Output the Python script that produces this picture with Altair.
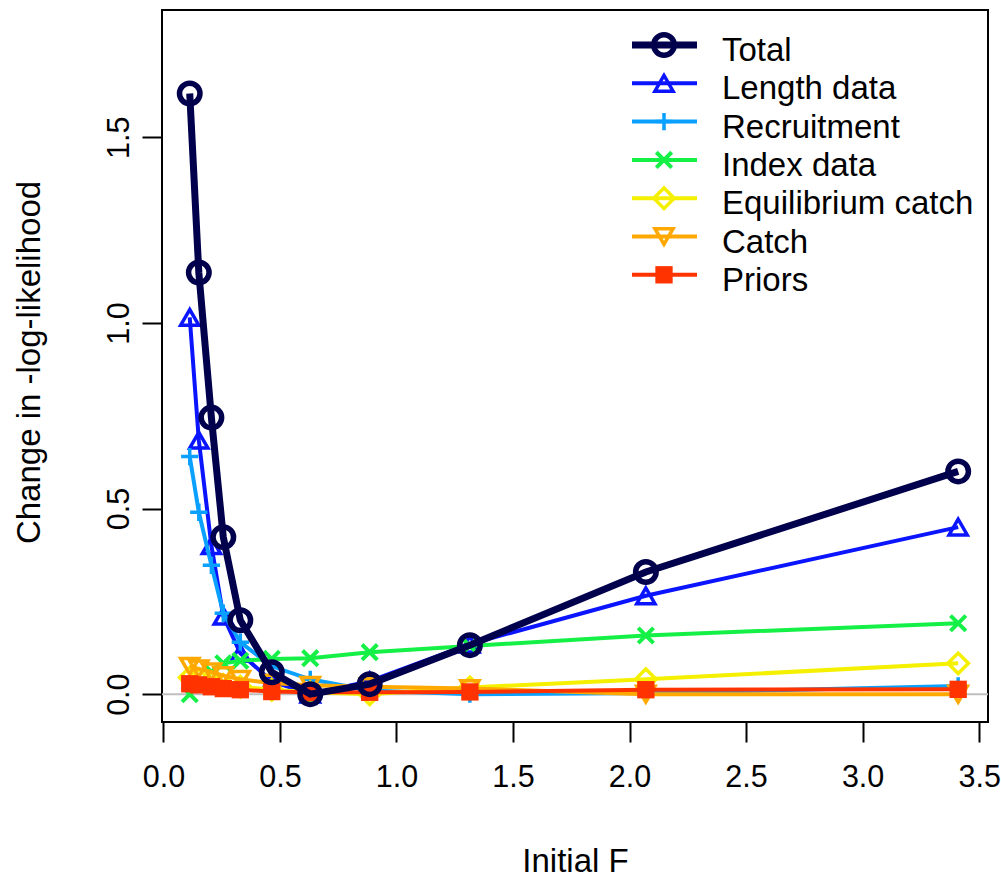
import altair as alt
import pandas as pd

# Likelihood profile over initial fishing mortality
initial_f = [0.113, 0.152, 0.206, 0.257, 0.330, 0.465, 0.630, 0.885, 1.315, 2.070, 3.410]

total = [1.618, 1.136, 0.745, 0.423, 0.199, 0.059, 0.000, 0.027, 0.132, 0.329, 0.600]
length_data = [1.015, 0.684, 0.400, 0.210, 0.110, 0.035, 0.000, 0.035, 0.135, 0.265, 0.450]
recruitment = [0.640, 0.490, 0.347, 0.218, 0.140, 0.075, 0.040, 0.010, 0.000, 0.003, 0.022]
index_data = [0.000, 0.030, 0.060, 0.083, 0.090, 0.095, 0.097, 0.113, 0.130, 0.158, 0.191]
equil_catch = [0.045, 0.040, 0.032, 0.025, 0.020, 0.012, 0.005, 0.000, 0.018, 0.040, 0.083]
catch = [0.075, 0.068, 0.060, 0.050, 0.040, 0.030, 0.024, 0.020, 0.015, 0.000, 0.000]
priors = [0.028, 0.025, 0.020, 0.015, 0.012, 0.007, 0.005, 0.005, 0.006, 0.012, 0.013]

x_ticks = [0.0, 0.5, 1.0, 1.5, 2.0, 2.5, 3.0, 3.5]
y_ticks = [0.0, 0.5, 1.0, 1.5]

FONT = "Liberation Sans"
TICK_FS = 30.5
TEXT_FS = 33
W, H = 826, 712

PLUS = "M-1,0L1,0M0,-1L0,1"
CROSS = "M-0.75,-0.75L0.75,0.75M-0.75,0.75L0.75,-0.75"

# name, values, colour, marker shape, filled, line width, marker size, marker stroke
series = [
    ("Total", total, "#00004C", "circle", False, 7, 420, 5.5),
    ("Length data", length_data, "#0A14FF", "triangle-up", False, 4, 330, 3.5),
    ("Recruitment", recruitment, "#0AA0FF", PLUS, False, 4, 300, 3.5),
    ("Index data", index_data, "#14F046", CROSS, False, 4, 420, 4),
    ("Equilibrium catch", equil_catch, "#F5F000", "diamond", False, 4, 420, 3.5),
    ("Catch", catch, "#FFA800", "triangle-down", False, 4, 330, 3.5),
    ("Priors", priors, "#FF3300", "square", True, 4, 300, 1),
]

x_scale = alt.Scale(domain=[-0.006, 3.538], nice=False, zero=False)
y_scale = alt.Scale(domain=[-0.075, 1.843], nice=False, zero=False)

x_axis = alt.Axis(
    values=x_ticks, format=".1f", title="Initial F", grid=False, domain=False,
    tickSize=20, tickWidth=2, tickColor="black",
    labelFont=FONT, labelFontSize=TICK_FS, labelColor="black", labelPadding=20,
    labelFlush=False, labelOverlap=False,
    titleFont=FONT, titleFontSize=TEXT_FS, titleFontWeight="normal", titleColor="black",
    titleBaseline="alphabetic", titleY=149,
)
y_axis = alt.Axis(
    values=y_ticks, format=".1f", title="Change in -log-likelihood", grid=False,
    domain=False, tickSize=20, tickWidth=2, tickColor="black",
    labelFont=FONT, labelFontSize=TICK_FS, labelColor="black", labelAngle=270,
    labelAlign="center", labelBaseline="alphabetic", labelPadding=14,
    labelFlush=False, labelOverlap=False,
    titleFont=FONT, titleFontSize=TEXT_FS, titleFontWeight="normal", titleColor="black",
    titleBaseline="alphabetic", titleAlign="center", titleX=-123, titleY=352,
)

X = alt.X("F:Q", scale=x_scale, axis=x_axis)
Y = alt.Y("nll:Q", scale=y_scale, axis=y_axis)

long_rows = []
for name, vals, *_ in series:
    for f, v in zip(initial_f, vals):
        long_rows.append({"series": name, "F": f, "nll": v})
df = pd.DataFrame(long_rows)

# reference line at zero
zero = alt.Chart(pd.DataFrame({"nll": [0.0]})).mark_rule(
    color="#BEBEBE", strokeWidth=2
).encode(y=Y)

layers = [zero]
draw_order = series[1:] + series[:1]
for name, vals, color, shape, filled, lw, msize, mstroke in draw_order:
    base = alt.Chart(df).transform_filter(alt.datum.series == name)
    line = base.mark_line(color=color, strokeWidth=lw).encode(x=X, y=Y)
    pts = base.mark_point(
        shape=shape, filled=filled, color=color, size=msize,
        strokeWidth=mstroke, opacity=1,
    ).encode(x=X, y=Y)
    layers += [line, pts]

# legend, top right inside the panel
LEG_X1, LEG_X2, LEG_MX, LEG_TX = 470, 535, 502, 560
LEG_Y0, LEG_DY = 35, 38.3
for i, (name, vals, color, shape, filled, lw, msize, mstroke) in enumerate(series):
    ry = LEG_Y0 + i * LEG_DY
    one = alt.Chart(pd.DataFrame({"label": [name]}))
    layers.append(one.mark_rule(color=color, strokeWidth=lw).encode(
        x=alt.value(LEG_X1), x2=alt.value(LEG_X2), y=alt.value(ry)))
    layers.append(one.mark_point(
        shape=shape, filled=filled, color=color, size=msize,
        strokeWidth=mstroke, opacity=1,
    ).encode(x=alt.value(LEG_MX), y=alt.value(ry)))
    layers.append(one.mark_text(
        align="left", baseline="alphabetic", font=FONT, fontSize=TEXT_FS, color="black"
    ).encode(x=alt.value(LEG_TX), y=alt.value(ry + 16), text="label:N"))

chart = alt.layer(*layers).properties(
    width=W, height=H, background="white",
    autosize=alt.AutoSizeParams(type="none"),
    padding={"left": 162, "top": 10, "right": 13, "bottom": 155},
).configure_view(stroke="black", strokeWidth=2)

chart.save("out.html", embed_options={"renderer": "svg", "actions": False})
